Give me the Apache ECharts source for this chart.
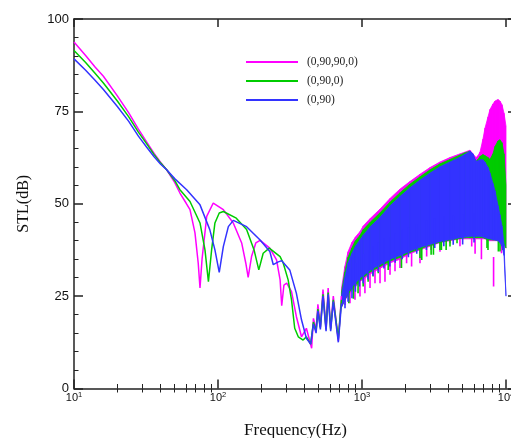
<!DOCTYPE html>
<html><head><meta charset="utf-8">
<script src="https://cdn.jsdelivr.net/npm/echarts@6/dist/echarts.min.js"></script>
<style>html,body{margin:0;padding:0;background:#fff}#c{width:511px;height:438px}</style>
</head><body><div id="c"></div>
<script>
// ---- names / ticks ----
const seriesNames = ['(0,90,90,0)', '(0,90,0)', '(0,90)'];
const xDecadeExponents = [1, 2, 3, 4];
const yTickValues = [0, 25, 50, 75, 100];

// ---- low-frequency smooth part (Hz, dB) ----
const lowFreqA = [10,12,14,16,20,24,28,32,36,40,44,50,54.4,60,63.9,69.2,72.9,75,77.5,83.5,92.7,108.9,127.7,146,156,162,171,183,196,229,255,270,277,287,300,324,350,380,411,447,460,480,494,514,536,563,582,606,632,685,720];
const lowValA  = [93.8,90.2,87.0,84.5,79.2,74.6,70.2,66.7,63.6,61.2,59.2,55.8,52.9,50.2,48.4,42.1,33.9,27.2,35.0,46.6,50.2,48.4,44.8,39.4,33.9,30.1,35.7,39.4,40.1,38.0,34.8,29.4,22.4,28.0,28.5,26.2,19.5,14.0,16.3,10.9,19.0,15.9,22.8,16.7,26.8,16.3,27.2,16.3,25.0,12.8,25.0];

const lowFreqB = [10,12,14,16,20,24,28,32,36,40,44,50,54.4,63.9,75,81.2,85.8,90.3,95.2,102,108.9,134,158,178,192,206,227,270,284,307,324,341,361,390,411,440,460,480,494,514,536,563,582,606,632,685,720];
const lowValB  = [91.5,88.3,85.3,82.7,77.8,73.5,69.4,66.2,63.3,61.0,59.2,56.3,53.8,50.6,44.8,37.5,28.9,37.5,44.8,47.5,47.9,46.1,43.0,37.5,32.1,36.6,38.0,35.7,33.9,29.4,24.0,16.3,14.0,13.1,14.0,12.0,18.0,15.5,21.5,16.5,25.5,16.0,26.0,16.0,24.0,13.5,24.0];

const lowFreqC = [10,12,14,16,20,24,28,32,36,40,44,50,60.6,75,87.7,95.2,102,108.9,118,127.7,158,196,229,242,260,277,315,350,380,411,440,460,480,494,514,536,563,582,606,632,685,720];
const lowValC  = [89.2,86.2,83.4,80.9,76.3,72.3,68.3,65.3,62.7,60.7,59.2,56.8,53.8,49.7,43.0,37.5,31.4,38.4,43.8,45.5,43.8,40.2,37.1,33.5,34.2,34.6,32.1,25.8,18.6,13.6,12.0,17.5,15.0,21.0,16.0,25.0,15.5,25.5,15.5,23.5,12.5,23.0];

// ---- high-frequency dense oscillation: upper / lower envelope (dB) ----
const bandFreq = [720,760,800,850,900,970,1020,1140,1330,1570,1840,2150,2530,2970,3480,4080,4790,5200,5620,5900,6190,6390,6600,6920,7150,7500,7740,8120,8390,8800,9080,9380,9690,10000];
const bandTopA = [27,33,37,39.5,41,42.5,44,46,48.5,51.5,54,56,58,59.8,61.3,62.5,63.5,64,64.5,63.5,62.5,63,64,67.5,70.5,73.5,75.5,77,77.8,78.2,77.8,76.8,74.5,71];
const bandBotA = [22,24,25,26.5,27.5,29,29.5,31,32.5,34,35,36.5,37.5,38.5,39.5,40,40.5,40.5,40.5,40.5,40.5,40.5,40.5,40.5,40.5,40,40,40,40,40,40,39.5,39,38];
const bandTopB = [26,31.5,35.5,38,40,41.5,43,45,47.5,50.5,53,55.3,57.3,59.2,60.8,62,63.2,63.8,64.2,63,61.5,62,62.8,63.3,63,62.5,62,63.5,65.5,67,67.3,66.5,63.5,55];
const bandBotB = [22,24,25.5,27,28,29.3,30,31.5,33,34.5,35.5,36.8,37.8,38.8,39.6,40.2,40.6,40.8,40.8,40.8,40.8,40.8,40.8,40.8,40.6,40.4,40.3,40.2,40.2,40,39.8,39.5,39,38];
const bandTopC = [25,30,34,36.5,38.5,40.3,41.5,43.8,46.3,49.5,52,54.3,56.4,58.3,60,61.3,62.6,63.4,64.2,63.5,61.5,61.6,61.9,61.9,61.2,59.8,58.3,55.5,53.5,49.5,47,44,39,25];
const bandBotC = [22,24,26,27.5,28.5,30,30.5,32,33.5,35,36,37.2,38.2,39,39.8,40.3,40.8,41,41.2,41.2,41.2,41.2,41.2,41,40.8,40.6,40.5,40.3,40.2,40,39.5,38.5,36,25];

// ---- deep minima of the oscillation (Hz, dB) ----
const spikeFreqA = [762,825,894,968,1048,1137,1231,1334,1444,1565,1695,1836,2040,2210,2528,2812,3020,3480,4084,4790,5780,6100,6750,8200,9300];
const spikeValA  = [22.6,23.1,24.0,24.9,25.8,27.2,28.5,28.5,28.9,30.8,31.7,32.6,33.9,33.0,33.9,35.7,37.5,37.0,39.3,38.5,38.4,36.5,35.0,27.6,36.6];
const spikeFreqB = [810,872,939,1019,1103,1194,1296,1520,1880,2528,2600,3020,3134,3480,3560,3840,4084,4570,7380,7500,8850,9085,9500];
const spikeValB  = [23.1,24.3,25.8,27.6,28.9,30.3,31.2,32.1,32.6,35.3,34.8,36.2,36.2,37.5,37.5,37.5,38.4,39.3,38.0,37.5,37.1,37.1,37.5];
const spikeFreqC = [762,800,852,900,960,1020,1100,1190,1300,1420,1560,1700,1900,2100,2400,2800,3200,3700,4300,5000,6000];
const spikeValC  = [21.7,23.5,24.4,26.2,27.6,28.5,29.5,30.5,31.5,32.5,33.0,34.0,35.0,35.5,36.5,37.5,38.0,38.5,38.9,39.0,39.5];

// ---------------------------------------------------------------
const colors = ['#ff00ff', '#00cc00', '#3333ff'];
const X_MAX = 11924;
const LOG_MAX = Math.log10(X_MAX);
const minorLog = [];
for (let d = 1; d < 4; d++) for (let m = 2; m <= 9; m++) minorLog.push(d + Math.log10(m));

const zip = (a, b) => a.map((v, i) => [v, b[i]]);

function lineSeries(name, f, v, color) {
  return { name, type: 'line', data: zip(f, v), showSymbol: false, symbol: 'none',
    lineStyle: { color, width: 1.5 }, itemStyle: { color }, color, animation: false, silent: true };
}
function bandSeries(f, top, bot, color) {
  const data = [];
  for (let i = 0; i < f.length - 1; i++) data.push([f[i], top[i], bot[i], f[i + 1], top[i + 1], bot[i + 1]]);
  return { type: 'custom', silent: true, animation: false, clip: true,
    encode: { x: [0, 3], y: [1, 2, 4, 5] },
    renderItem: (p, api) => {
      const a = api.coord([api.value(0), api.value(1)]);
      const b = api.coord([api.value(3), api.value(4)]);
      const c = api.coord([api.value(3), api.value(5)]);
      const d = api.coord([api.value(0), api.value(2)]);
      return { type: 'polygon', shape: { points: [a, b, c, d] }, style: { fill: color, stroke: color, lineWidth: 0.8 } };
    }, data };
}
function spikeSeries(f, v, color) {
  return { type: 'custom', silent: true, animation: false, clip: true,
    encode: { x: 0, y: 1 },
    renderItem: (p, api) => {
      const p1 = api.coord([api.value(0), api.value(1)]);
      const p2 = api.coord([api.value(0), api.value(1) + 8]);
      return { type: 'line', shape: { x1: p1[0], y1: p1[1], x2: p2[0], y2: p2[1] }, style: { stroke: color, lineWidth: 1.6 } };
    }, data: zip(f, v) };
}

const axisCol = '#222';
const chart = echarts.init(document.getElementById('c'), null, { renderer: 'canvas' });
chart.setOption({
  animation: false,
  backgroundColor: '#fff',
  grid: { left: 74, top: 19, width: 443, height: 369.5, containLabel: false, outerBoundsMode: 'none' },
  legend: {
    data: seriesNames, orient: 'vertical', left: 241, top: 50, icon: 'rect',
    itemWidth: 52, itemHeight: 2, itemGap: 5,
    textStyle: { fontFamily: 'Liberation Serif', fontSize: 11.5, color: '#222', lineHeight: 14, padding: [0, 0, 0, 4] }
  },
  xAxis: [
    { type: 'log', logBase: 10, min: 10, max: X_MAX, position: 'bottom',
      name: 'Frequency(Hz)', nameLocation: 'middle', nameGap: 34,
      nameTextStyle: { fontFamily: 'Liberation Serif', fontSize: 17, color: '#111' },
      axisLine: { show: true, onZero: false, lineStyle: { color: axisCol, width: 1.5 } },
      axisTick: { show: true, inside: true, length: 9, lineStyle: { color: axisCol, width: 1.5 } },
      splitLine: { show: false },
      axisLabel: { margin: 2, color: '#111',
        formatter: v => { const e = Math.round(Math.log10(v)); return (Math.abs(Math.log10(v) - e) < 1e-6 && xDecadeExponents.includes(e)) ? '{b|10}{s|' + e + '}' : ''; },
        rich: { b: { fontFamily: 'Liberation Sans', fontSize: 11, lineHeight: 14, color: '#111' },
                s: { fontFamily: 'Liberation Sans', fontSize: 7.5, lineHeight: 14, verticalAlign: 'top', color: '#111' } } } },
    { type: 'value', min: 1, max: LOG_MAX, position: 'bottom',
      axisLine: { show: false }, axisLabel: { show: false }, splitLine: { show: false },
      axisTick: { show: true, inside: true, length: 4.5, customValues: minorLog, lineStyle: { color: axisCol, width: 1 } } },
    { type: 'log', logBase: 10, min: 10, max: X_MAX, position: 'top',
      axisLine: { show: true, onZero: false, lineStyle: { color: axisCol, width: 1.5 } },
      axisTick: { show: true, inside: true, length: 8, lineStyle: { color: axisCol, width: 1.5 } },
      axisLabel: { show: false }, splitLine: { show: false } },
    { type: 'value', min: 1, max: LOG_MAX, position: 'top',
      axisLine: { show: false }, axisLabel: { show: false }, splitLine: { show: false },
      axisTick: { show: true, inside: true, length: 4, customValues: minorLog, lineStyle: { color: axisCol, width: 1 } } }
  ],
  yAxis: [
    { type: 'value', min: yTickValues[0], max: yTickValues[yTickValues.length - 1], interval: 25, position: 'left',
      name: 'STL(dB)', nameLocation: 'middle', nameGap: 42,
      nameTextStyle: { fontFamily: 'Liberation Serif', fontSize: 16, color: '#111' },
      axisLine: { show: true, onZero: false, lineStyle: { color: axisCol, width: 1.5 } },
      axisTick: { show: true, inside: true, length: 9, lineStyle: { color: axisCol, width: 1.5 } },
      minorTick: { show: true, splitNumber: 5, length: 4.5, lineStyle: { color: axisCol, width: 1 } },
      splitLine: { show: false },
      axisLabel: { margin: 5, fontFamily: 'Liberation Sans', fontSize: 13, color: '#111' } },
    { type: 'value', min: 0, max: 100, interval: 25, position: 'right',
      axisLine: { show: true, onZero: false, lineStyle: { color: axisCol, width: 1.5 } },
      axisTick: { show: true, inside: true, length: 9, lineStyle: { color: axisCol, width: 1.5 } },
      minorTick: { show: true, splitNumber: 5, length: 4.5, lineStyle: { color: axisCol, width: 1 } },
      splitLine: { show: false }, axisLabel: { show: false } }
  ],
  series: [
    lineSeries(seriesNames[0], lowFreqA, lowValA, colors[0]),
    bandSeries(bandFreq, bandTopA, bandBotA, colors[0]),
    spikeSeries(spikeFreqA, spikeValA, colors[0]),
    lineSeries(seriesNames[1], lowFreqB, lowValB, colors[1]),
    bandSeries(bandFreq, bandTopB, bandBotB, colors[1]),
    spikeSeries(spikeFreqB, spikeValB, colors[1]),
    lineSeries(seriesNames[2], lowFreqC, lowValC, colors[2]),
    bandSeries(bandFreq, bandTopC, bandBotC, colors[2]),
    spikeSeries(spikeFreqC, spikeValC, colors[2])
  ]
});
</script></body></html>
